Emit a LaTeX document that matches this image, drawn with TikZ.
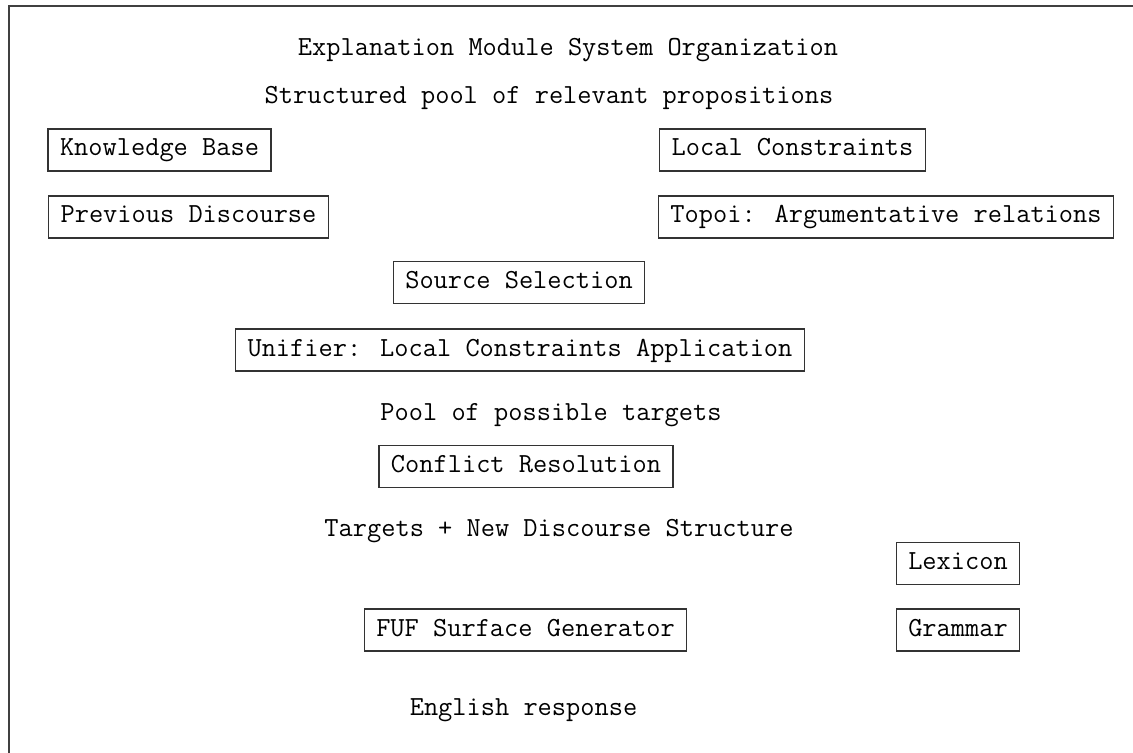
\documentclass[tikz,border=0pt]{standalone}
\usepackage{fontspec}
\begin{document}
\begin{tikzpicture}[x=0.5pt,y=-0.5pt,
  every node/.style={font=\ttfamily\fontsize{13.8}{16}\selectfont},
  box/.style={draw=black!80,line width=0.6pt,inner xsep=6pt,minimum height=21pt,text height=8.5pt,text depth=2.5pt}]
\useasboundingbox (0,0) rectangle (1133,753);

% outer frame, runs off to the right and bottom
\draw[black!75,line width=1pt] (1140,6) -- (9,6) -- (9,760);

\node (title) at (568,50) {Explanation Module System Organization};
\node (pool) at (549,98) {Structured pool of relevant propositions};

\node[box] (kb) at (159.5,150) {Knowledge Base};
\node[box] (lc) at (792.5,150) {Local Constraints};
\node[box] (pd) at (188.5,217) {Previous Discourse};
\node[box] (topoi) at (886,217) {Topoi: Argumentative relations};

\node[box] (srcsel) at (519,282.5) {Source Selection};
\node[box] (unifier) at (520,350) {Unifier: Local Constraints Application};
\node (targets) at (551,415) {Pool of possible targets};
\node[box] (conflict) at (526,466.5) {Conflict Resolution};
\node (newdisc) at (559,531) {Targets + New Discourse Structure};

\node[box] (lexicon) at (958,563.5) {Lexicon};
\node[box] (grammar) at (958,630) {Grammar};
\node[box] (fuf) at (525.5,630) {FUF Surface Generator};
\node (english) at (523.5,710) {English response};

\end{tikzpicture}
\end{document}
